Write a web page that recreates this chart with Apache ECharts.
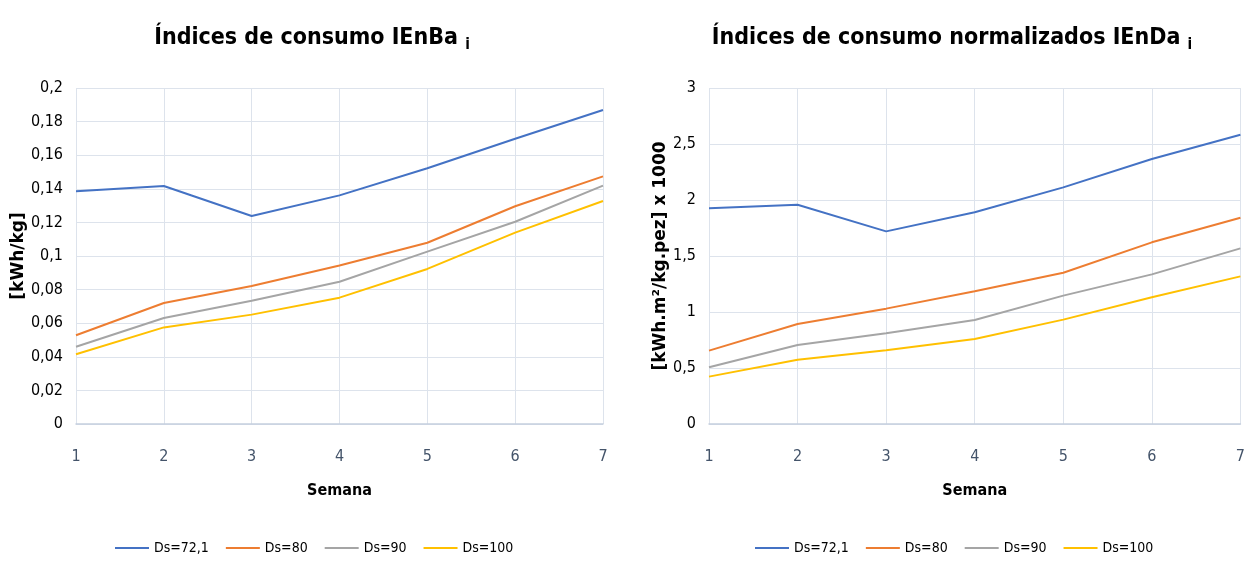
<!DOCTYPE html>
<html><head><meta charset="utf-8">
<script src="https://cdn.jsdelivr.net/npm/echarts@6/dist/echarts.min.js"></script>
<style>html,body{margin:0;padding:0;background:#fff}#c{width:1248px;height:565px}</style>
</head><body><div id="c"></div>
<script>
const weeks = ['1','2','3','4','5','6','7'];
const seriesNames = ['Ds=72,1','Ds=80','Ds=90','Ds=100'];
// Left chart: IEnBa_i [kWh/kg]
const enba72 = [0.1385, 0.1417, 0.1238, 0.1361, 0.1522, 0.1698, 0.1869];
const enba80 = [0.0528, 0.0720, 0.0821, 0.0944, 0.1079, 0.1296, 0.1474];
const enba90 = [0.0460, 0.0631, 0.0734, 0.0847, 0.1026, 0.1204, 0.1419];
const enba100 = [0.0415, 0.0575, 0.0651, 0.0752, 0.0923, 0.1139, 0.1327];
// Right chart: IEnDa_i [kWh.m2/kg.pez] x 1000
const enda72 = [1.926, 1.958, 1.720, 1.890, 2.113, 2.366, 2.583];
const enda80 = [0.655, 0.893, 1.030, 1.185, 1.351, 1.622, 1.842];
const enda90 = [0.506, 0.705, 0.810, 0.929, 1.146, 1.336, 1.568];
const enda100 = [0.423, 0.574, 0.658, 0.759, 0.932, 1.131, 1.318];

const colors = ['#4472C4','#ED7D31','#A5A5A5','#FFC000'];
const FONT = '"DejaVu Sans Condensed","Roboto Condensed",Roboto,sans-serif';

function fmtComma(v){ return String(+v.toFixed(4)).replace('.', ','); }

function xAxis(gi){
  return {
    type:'category', gridIndex:gi, data:weeks, boundaryGap:false,
    axisLine:{show:true, lineStyle:{color:'#C5CFDE', width:1.5}},
    axisTick:{show:false},
    axisLabel:{color:'#44546A', fontFamily:FONT, fontSize:16, margin:25},
    splitLine:{show:true, lineStyle:{color:'#DDE3EC', width:1}},
    name:'Semana', nameLocation:'middle', nameGap:59,
    nameTextStyle:{fontFamily:FONT, fontWeight:'bold', fontSize:16, color:'#000'}
  };
}
function yAxis(gi, max, interval, name, gap){
  return {
    type:'value', gridIndex:gi, min:0, max:max, interval:interval,
    axisLine:{show:false}, axisTick:{show:false},
    axisLabel:{color:'#000', fontFamily:FONT, fontSize:16, margin:13, formatter:fmtComma},
    splitLine:{lineStyle:{color:'#DDE3EC', width:1}},
    name:name, nameLocation:'middle', nameGap:gap, nameRotate:90,
    nameTextStyle:{fontFamily:'"DejaVu Sans",sans-serif', fontWeight:'bold', fontSize:17, color:'#000'}
  };
}
function mk(name, data, idx, gi){
  return {name:name, type:'line', xAxisIndex:gi, yAxisIndex:gi, data:data,
    symbol:'none', lineStyle:{width:2, color:colors[idx]}, itemStyle:{color:colors[idx]}};
}
const titleRich = {
  a:{fontFamily:FONT, fontWeight:'bold', fontSize:23, color:'#000'},
  s:{fontFamily:FONT, fontWeight:'bold', fontSize:15, color:'#000', padding:[15,0,0,0]}
};
const legendCommon = {
  icon:'rect', itemWidth:34, itemHeight:2, itemGap:17, bottom:5,
  textStyle:{fontFamily:FONT, fontSize:14, color:'#000'}, data:seriesNames
};
const chart = echarts.init(document.getElementById('c'));
chart.setOption({
  animation:false,
  color:colors,
  title:[
    {text:'{a|Índices de consumo IEnBa }{s|i}', left:307, top:18, textAlign:'center', textStyle:{rich:titleRich}},
    {text:'{a|Índices de consumo normalizados IEnDa }{s|i}', left:947, top:18, textAlign:'center', textStyle:{rich:titleRich}}
  ],
  legend:[
    Object.assign({left:110}, legendCommon),
    Object.assign({left:750}, legendCommon)
  ],
  grid:[
    {left:76, right:645, top:88, bottom:141},
    {left:709, right:4, top:88, bottom:141}
  ],
  xAxis:[xAxis(0), xAxis(1)],
  yAxis:[yAxis(0, 0.2, 0.02, '[kWh/kg]', 48), yAxis(1, 3, 0.5, '[kWh.m²/kg.pez] x 1000', 39)],
  series:[
    mk(seriesNames[0], enba72, 0, 0), mk(seriesNames[1], enba80, 1, 0),
    mk(seriesNames[2], enba90, 2, 0), mk(seriesNames[3], enba100, 3, 0),
    mk(seriesNames[0], enda72, 0, 1), mk(seriesNames[1], enda80, 1, 1),
    mk(seriesNames[2], enda90, 2, 1), mk(seriesNames[3], enda100, 3, 1)
  ]
});
</script></body></html>
